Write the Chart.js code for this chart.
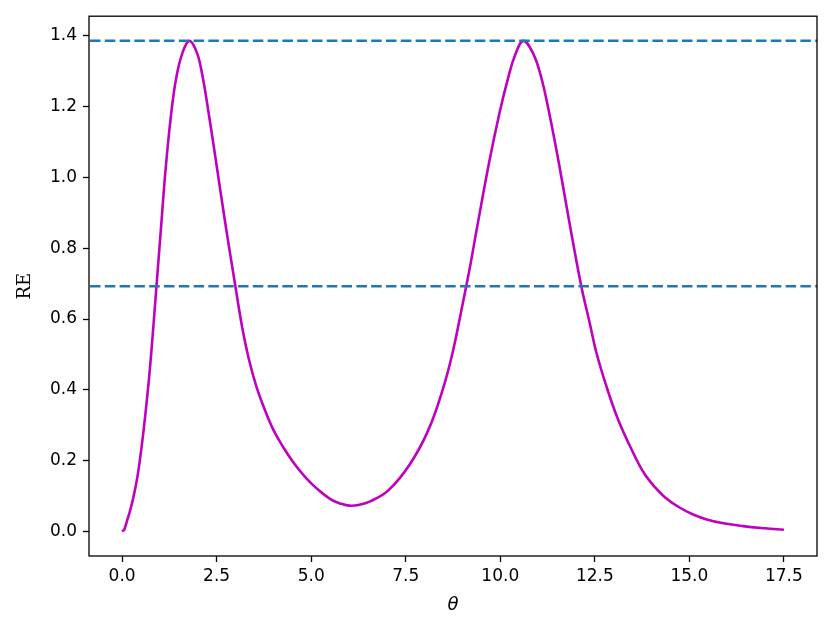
<!DOCTYPE html>
<html lang="en">
<head>
    <meta charset="UTF-8">
    <title>RE vs theta</title>
    <style>
        html, body { margin: 0; padding: 0; background: #ffffff; }
        #reChart { display: block; }
    </style>
</head>
<body>
    <canvas id="reChart" width="831" height="633"></canvas>

    <script src="https://cdn.jsdelivr.net/npm/chart.js@4.4.0/dist/chart.umd.min.js"></script>
    <script>
        // curve: theta -> RE
        var thetaVals = [0.00, 0.06, 0.13, 0.22, 0.31, 0.39, 0.46, 0.57, 0.71, 0.81, 0.91, 1.04, 1.16, 1.30, 1.43, 1.59, 1.78,
                         1.98, 2.12, 2.27, 2.47, 2.73, 3.00, 3.17, 3.35, 3.55, 3.77, 4.00, 4.25, 4.53, 4.85, 5.15, 5.54, 5.80, 6.01,
                         6.25, 6.56, 7.04, 7.61, 8.10, 8.49, 8.75, 9.00, 9.20, 9.38, 9.71, 9.99, 10.21, 10.39, 10.61,
                         10.87, 11.07, 11.27, 11.53, 11.84, 12.14, 12.35, 12.55, 12.81, 13.12, 13.52, 13.80, 14.09, 14.35, 14.75,
                         15.10, 15.46, 15.90, 16.42, 17.00, 17.50];
        var reVals    = [0.000, 0.006, 0.030, 0.062, 0.102, 0.145, 0.193, 0.287, 0.430, 0.556, 0.694, 0.873, 1.035, 1.182, 1.280, 1.350, 1.386,
                         1.352, 1.290, 1.195, 1.055, 0.870, 0.690, 0.580, 0.488, 0.410, 0.345, 0.287, 0.240, 0.195, 0.153, 0.121, 0.089, 0.078, 0.073,
                         0.075, 0.085, 0.116, 0.190, 0.287, 0.405, 0.510, 0.640, 0.748, 0.855, 1.045, 1.187, 1.282, 1.345, 1.386,
                         1.350, 1.288, 1.195, 1.052, 0.866, 0.694, 0.596, 0.502, 0.409, 0.315, 0.221, 0.165, 0.125, 0.097, 0.067,
                         0.048, 0.034, 0.023, 0.015, 0.009, 0.005];

        // horizontal reference levels (dashed)
        var refLevels = [1.386, 0.693];

        var xTicks = [0, 2.5, 5, 7.5, 10, 12.5, 15, 17.5];
        var yTicks = [0, 0.2, 0.4, 0.6, 0.8, 1.0, 1.2, 1.4];

        var xMin = -0.875, xMax = 18.375;
        var yMin = -0.0693, yMax = 1.4556;

        var points = thetaVals.map(function (t, i) { return { x: t, y: reVals[i] }; });

        // dashed hlines + the full box frame
        var framePlugin = {
            id: 'frame',
            afterDatasetsDraw: function (chart) {
                var ctx = chart.ctx, a = chart.chartArea, ys = chart.scales.y;
                ctx.save();
                ctx.beginPath();
                ctx.rect(a.left, a.top, a.right - a.left, a.bottom - a.top);
                ctx.clip();
                ctx.strokeStyle = '#1f77b4';
                ctx.lineWidth = 2.5;
                ctx.setLineDash([10.5, 4.3]);
                refLevels.forEach(function (lv) {
                    var py = ys.getPixelForValue(lv);
                    ctx.beginPath();
                    ctx.moveTo(a.left + 1, py);
                    ctx.lineTo(a.right, py);
                    ctx.stroke();
                });
                ctx.restore();

                ctx.save();
                ctx.strokeStyle = '#000000';
                ctx.lineWidth = 1.3;
                ctx.strokeRect(a.left, a.top, a.right - a.left, a.bottom - a.top);
                ctx.restore();
            }
        };

        var tickFont = { family: 'DejaVu Sans', size: 17 };

        new Chart(document.getElementById('reChart'), {
            type: 'line',
            data: {
                datasets: [{
                    data: points,
                    borderColor: '#bf00bf',
                    borderWidth: 2.6,
                    pointRadius: 0,
                    fill: false,
                    tension: 0.4
                }]
            },
            options: {
                responsive: false,
                animation: false,
                layout: { padding: { top: 12, right: 14, left: 0, bottom: 0 } },
                plugins: {
                    legend: { display: false },
                    tooltip: { enabled: false }
                },
                scales: {
                    x: {
                        type: 'linear',
                        min: xMin,
                        max: xMax,
                        afterBuildTicks: function (s) { s.ticks = xTicks.map(function (v) { return { value: v }; }); },
                        afterFit: function (s) { s.height = 77; },
                        grid: { drawOnChartArea: false, drawTicks: true, tickLength: 6, tickWidth: 1.3, tickColor: '#000' },
                        border: { display: false },
                        ticks: {
                            color: '#000',
                            font: tickFont,
                            padding: 4,
                            maxRotation: 0,
                            autoSkip: false,
                            callback: function (v) { return v.toFixed(1); }
                        },
                        title: {
                            display: true,
                            text: 'θ',
                            color: '#000',
                            font: { family: 'DejaVu Sans', size: 18, style: 'italic' },
                            padding: { top: 0, bottom: 17 }
                        }
                    },
                    y: {
                        min: yMin,
                        max: yMax,
                        afterBuildTicks: function (s) { s.ticks = yTicks.map(function (v) { return { value: v }; }); },
                        afterFit: function (s) { s.width = 89; },
                        grid: { drawOnChartArea: false, drawTicks: true, tickLength: 6, tickWidth: 1.3, tickColor: '#000' },
                        border: { display: false },
                        ticks: {
                            color: '#000',
                            font: tickFont,
                            padding: 6,
                            autoSkip: false,
                            callback: function (v) { return v.toFixed(1); }
                        },
                        title: {
                            display: true,
                            text: 'RE',
                            color: '#000',
                            font: { family: 'DejaVu Serif', size: 18 },
                            padding: { top: 15, bottom: 0 }
                        }
                    }
                }
            },
            plugins: [framePlugin]
        });
    </script>
</body>
</html>
